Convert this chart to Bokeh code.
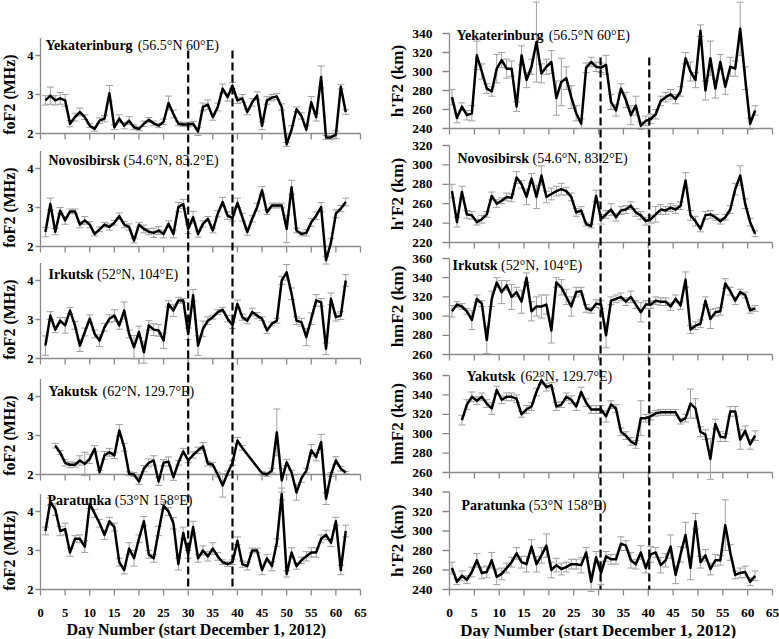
import math
from bokeh.plotting import figure
from bokeh.models import Range1d
from bokeh.layouts import row
from bokeh.core.properties import value
from bokeh.embed import file_html
from bokeh.resources import INLINE

# ---------------- data ----------------
days = list(range(1, 63))                 # day number (start December 1, 2012)
days_right = [d - 0.5 for d in days]      # right-hand panels are drawn half a day earlier
event_days_left = [30, 39]
event_days_right = [30.4, 40.2]
x_ticks = list(range(0, 66, 5))

stations = ["Yekaterinburg", "Novosibirsk", "Irkutsk", "Yakutsk", "Paratunka"]
coords_left = ["(56.5°N 60°E)", "(54.6°N, 83.2°E)", "(52°N, 104°E)", "(62°N, 129.7°E)", "(53°N 158°E)"]
coords_right = ["(56.5°N 60°E)", "(54.6°N, 83.2°E)", "(52°N, 104°E)", "(62°N, 129.7°E)", "(53°N 158°E)"]
left_ylabels = ["foF2 (MHz)"] * 5
right_ylabels = ["h'F2 (km)", "h'F2 (km)", "hmF2 (km)", "hmF2 (km)", "h'F2 (km)"]
left_yticks = [[2, 3, 4]] * 5
right_yticks = [[240, 260, 280, 300, 320, 340],
                [220, 240, 260, 280, 300, 320],
                [260, 280, 300, 320, 340, 360],
                [260, 280, 300, 320, 340, 360],
                [240, 260, 280, 300, 320, 340]]
xlabel = "Day Number (start December 1, 2012)"

# foF2 (MHz)
yek_fof2 = [2.85, 2.97, 2.85, 2.9, 2.85, 2.25, 2.42, 2.55, 2.42, 2.2,
            2.12, 2.33, 2.38, 3.03, 2.16, 2.38, 2.2, 2.33, 2.16, 2.12,
            2.25, 2.35, 2.26, 2.2, 2.3, 2.78, 2.5, 2.25, 2.23, 2.23,
            2.25, 2.05, 2.68, 2.74, 2.42, 2.68, 3.15, 2.93, 3.23, 2.85,
            2.9, 2.55, 2.8, 2.97, 2.2, 2.85, 2.92, 2.95, 2.68, 1.72,
            2.1, 2.62, 2.45, 2.1, 2.8, 2.42, 3.45, 1.9, 1.9, 1.97,
            3.2, 2.55]
yek_fof2_err = [.12, .22, .12, .15, .15, .08, .1, .1, .06, .05,
                .06, .07, .08, .2, .06, .1, .08, .1, .06, .05,
                .07, .06, .06, .05, .07, .18, .1, .05, .05, .06,
                .06, .1, .1, .12, .08, .1, .12, .1, .08, .08,
                .1, .07, .1, .1, .1, .1, .08, .08, .08, .05,
                .1, .06, .08, .1, .15, .1, .28, .05, .05, .1,
                .06, .06]
nov_fof2 = [2.37, 3.09, 2.38, 2.92, 2.67, 2.9, 2.9, 2.56, 2.67, 2.56,
            2.32, 2.44, 2.56, 2.5, 2.61, 2.78, 2.56, 2.5, 2.15, 2.56,
            2.45, 2.38, 2.35, 2.41, 2.32, 2.58, 2.32, 3.01, 3.09, 2.45,
            2.75, 2.32, 2.58, 2.71, 2.41, 2.84, 3.14, 2.79, 2.73, 3.12,
            2.75, 2.37, 2.71, 3.01, 3.44, 2.88, 3.05, 3.05, 3.05, 2.45,
            3.52, 2.41, 2.32, 2.35, 2.62, 2.79, 3.01, 1.65, 2.1, 2.84,
            2.97, 3.14]
nov_fof2_err = [.12, .15, .08, .08, .1, .06, .06, .08, .1, .08,
                .05, .06, .06, .08, .06, .08, .08, .08, .06, .06,
                .1, .08, .12, .1, .1, .08, .1, .12, .12, .12,
                .15, .08, .08, .06, .06, .08, .12, .1, .08, .12,
                .1, .08, .08, .1, .1, .06, .06, .06, .06, .35,
                .18, .06, .05, .08, .1, .1, .12, .1, .1, .1,
                .08, .1]
irk_fof2 = [2.33, 3.1, 2.74, 2.97, 2.85, 3.23, 2.85, 2.33, 2.68, 3.02,
            2.63, 2.46, 2.8, 3.02, 3.1, 2.85, 3.23, 2.63, 2.29, 2.68,
            2.16, 2.85, 2.74, 2.72, 2.46, 3.4, 3.23, 3.49, 3.49, 2.63,
            3.62, 2.33, 2.76, 2.97, 3.06, 3.19, 3.25, 3.02, 2.85, 3.4,
            3.06, 2.97, 3.19, 3.1, 3.02, 2.72, 2.89, 2.97, 4.0, 4.21,
            3.66, 2.97, 2.93, 2.55, 3.02, 3.49, 3.44, 2.25, 3.53, 3.06,
            3.1, 4.0]
irk_fof2_err = [.25, .1, .08, .08, .2, .08, .1, .15, .1, .1,
                .1, .15, .1, .1, .15, .1, .22, .1, .3, .15,
                .28, .12, .15, .15, .2, .08, .15, .08, .05, .15,
                .15, .25, .2, .1, .05, .06, .06, .08, .08, .1,
                .08, .08, .1, .08, .05, .08, .05, .06, .1, .2,
                .15, .1, .1, .22, .15, .15, .1, .15, .15, .1,
                .1, .15]
yak_fof2 = [None, None, 2.74, 2.56, 2.3, 2.25, 2.25, 2.36, 2.27, 2.4,
            2.66, 2.06, 2.49, 2.57, 2.49, 3.13, 2.7, 2.02, 2.0, 1.82,
            2.15, 2.3, 2.36, 1.82, 2.3, 2.33, 1.93, 2.3, 2.59, 2.36,
            2.5, 2.62, 2.72, 2.28, 2.25, 2.0, 1.72, 2.03, 2.3, 2.87,
            2.68, None, None, None, 2.03, 2.0, 2.1, 3.08, 1.85, 2.31,
            2.05, 1.54, 1.9, 2.1, 2.62, 2.45, 2.83, 1.38, 2.0, 2.36,
            2.15, 2.05]
yak_fof2_err = [None, None, .06, .05, .08, .08, .06, .12, .3, .12,
                .08, .05, .1, .1, .08, .15, .1, .05, .05, .08,
                .08, .1, .12, .1, .08, .12, .08, .06, .08, .06,
                .08, .08, .1, .06, .06, .06, .3, .06, .06, .08,
                .06, None, None, None, .05, .05, .06, .6, .3, .08,
                .06, .2, .1, .06, .15, .1, .2, .15, .05, .1,
                .06, .03]
par_fof2 = [3.5, 4.25, 4.05, 3.5, 3.55, 2.95, 3.3, 3.3, 3.1, 4.2,
            3.95, 3.7, 3.4, 3.75, 3.6, 2.7, 2.5, 3.05, 2.8, 3.3,
            3.75, 2.9, 2.8, 3.5, 4.15, 4.0, 3.7, 2.65, 3.45, 2.9,
            3.6, 2.8, 3.0, 2.85, 3.05, 2.85, 2.7, 2.65, 2.7, 3.25,
            2.65, 2.6, 3.0, 3.0, 2.5, 2.8, 2.6, 3.2, 4.45, 2.4,
            2.95, 2.6, 2.75, 2.85, 2.95, 2.95, 3.3, 3.4, 3.2, 3.75,
            2.5, 3.5]
par_fof2_err = [.1, .1, .15, .12, .15, .1, .08, .1, .15, .12,
                .1, .1, .12, .1, .1, .1, .1, .15, .2, .1,
                .12, .1, .1, .12, .1, .1, .15, .15, .15, .1,
                .15, .1, .12, .12, .15, .1, .06, .06, .06, .1,
                .08, .1, .06, .06, .12, .1, .12, .1, .15, .08,
                .12, .08, .08, .12, .12, .12, .1, .12, .1, .1,
                .12, .15]

# h'F2 / hmF2 (km)
yek_hf2 = [273, 251, 263, 254, 256, 317, 300, 282, 279, 303,
           312, 303, 303, 263, 317, 291, 305, 331, 298, 305,
           310, 272, 289, 293, 273, 256, 245, 304, 310, 305,
           304, 307, 268, 259, 282, 270, 254, 264, 243, 248,
           250, 255, 269, 273, 276, 271, 279, 314, 300, 291,
           343, 280, 314, 282, 310, 284, 305, 303, 345, 293,
           245, 259]
yek_hf2_err = [8, 5, 4, 5, 8, 15, 8, 5, 5, 15,
               8, 10, 8, 5, 10, 8, 8, 42, 10, 8,
               12, 18, 25, 12, 12, 8, 5, 5, 5, 5,
               5, 10, 8, 6, 5, 8, 10, 10, 4, 5,
               5, 5, 5, 5, 5, 5, 5, 6, 10, 8,
               6, 10, 18, 10, 8, 8, 10, 8, 28, 12,
               6, 5]
nov_hf2 = [273, 241, 272, 249, 248, 241, 244, 249, 268, 260,
           263, 267, 266, 287, 280, 267, 286, 267, 289, 267,
           270, 273, 275, 273, 267, 251, 253, 239, 237, 268,
           244, 249, 254, 246, 253, 254, 258, 251, 248, 242,
           244, 249, 254, 253, 256, 254, 258, 284, 248, 242,
           234, 248, 249, 246, 242, 246, 254, 275, 289, 260,
           241, 229]
nov_hf2_err = [7, 5, 6, 4, 4, 3, 4, 3, 4, 4,
               3, 4, 4, 6, 4, 8, 5, 12, 10, 6,
               6, 5, 6, 4, 4, 4, 4, 2, 2, 6,
               5, 4, 6, 4, 4, 4, 4, 4, 4, 4,
               4, 8, 5, 4, 4, 4, 4, 8, 5, 5,
               3, 4, 4, 3, 3, 3, 4, 6, 10, 5,
               4, 3]
irk_hmf2 = [305, 312, 310, 305, 296, 318, 313, 275, 318, 335,
            325, 332, 320, 325, 315, 340, 305, 310, 310, 312,
            285, 335, 330, 320, 310, 325, 326, 308, 306, 313,
            312, 280, 316, 318, 320, 315, 320, 312, 304, 312,
            312, 316, 315, 315, 310, 318, 311, 338, 286, 290,
            292, 316, 297, 304, 305, 334, 326, 316, 325, 322,
            306, 308]
irk_hmf2_err = [6, 3, 3, 3, 10, 4, 3, 14, 8, 5,
                12, 5, 13, 5, 12, 5, 10, 10, 12, 10,
                13, 5, 8, 8, 10, 5, 4, 4, 3, 4,
                4, 13, 4, 4, 4, 4, 6, 4, 10, 4,
                4, 4, 4, 4, 4, 4, 4, 8, 4, 4,
                4, 4, 10, 4, 4, 5, 4, 4, 3, 3,
                3, 3]
yak_hmf2 = [None, None, 314, 330, 338, 334, 338, 331, 326, 345,
            335, 338, 338, 336, 320, 325, 328, 343, 355, 348,
            350, 328, 330, 338, 335, 328, 343, 332, 325, 325,
            325, 318, 330, 326, 302, 298, 292, 289, 316, 316,
            318, 321, 322, 322, 322, 322, 313, 316, 331, 326,
            302, 299, 274, 310, 297, 296, 323, 323, 294, 303,
            289, 298]
yak_hmf2_err = [None, None, 5, 5, 5, 4, 4, 4, 6, 4,
                4, 4, 4, 4, 3, 4, 4, 4, 4, 4,
                3, 4, 3, 4, 4, 4, 5, 4, 4, 4,
                4, 6, 4, 4, 4, 4, 4, 4, 18, 4,
                4, 3, 3, 3, 3, 3, 3, 4, 15, 10,
                5, 5, 21, 5, 5, 4, 5, 5, 10, 5,
                5, 5]
par_hf2 = [262, 248, 254, 250, 258, 270, 257, 258, 270, 253,
           256, 262, 268, 277, 268, 266, 284, 266, 275, 285,
           260, 265, 261, 263, 266, 266, 265, 278, 248, 273,
           257, 274, 271, 271, 287, 285, 270, 266, 278, 262,
           276, 278, 265, 270, 284, 255, 276, 296, 262, 310,
           268, 275, 261, 270, 270, 306, 278, 255, 257, 258,
           248, 254]
par_hf2_err = [6, 3, 5, 4, 5, 7, 6, 6, 8, 8,
               6, 5, 5, 6, 6, 8, 7, 8, 8, 12,
               8, 7, 6, 5, 5, 5, 8, 5, 10, 6,
               12, 5, 5, 5, 7, 5, 8, 5, 7, 5,
               8, 5, 8, 7, 12, 9, 8, 13, 12, 8,
               6, 6, 6, 6, 5, 26, 8, 4, 5, 6,
               4, 5]

left_series = [(yek_fof2, yek_fof2_err), (nov_fof2, nov_fof2_err), (irk_fof2, irk_fof2_err),
               (yak_fof2, yak_fof2_err), (par_fof2, par_fof2_err)]
right_series = [(yek_hf2, yek_hf2_err), (nov_hf2, nov_hf2_err), (irk_hmf2, irk_hmf2_err),
                (yak_hmf2, yak_hmf2_err), (par_hf2, par_hf2_err)]

# ---------------- layout / style ----------------
FONT = "Liberation Serif"
H = 638
AX = "#8a8a8a"
ERR = "#a0a0a0"
TITLE_FS = 14
# width (px) of the bold station names at 14px, used to place the coordinate text after them
NAME_W = {"Yekaterinburg": 88.7, "Novosibirsk": 71.6, "Irkutsk": 45.1, "Yakutsk": 50.6, "Paratunka": 63.8}

LEFT = dict(width=385, ax=40, x65=360,
            bottoms=[2, 2, 2, 2, 2], bottom_px=[133, 246, 358, 474, 589],
            scale=[39.0] * 5, tops=[4.45] * 5,
            title_y=[4.26, 4.2, 4.15, 4.13, 4.28], title_dx=[5, 8, 8, 8, 7],
            ev_top=50, tick_len=5, lab_off=7, ytitle_off=31.5, tick_fs=12.5, ytitle_fs=16,
            xlab_fs=16, xlab_x=31.7, xtick_y=612, xlab_y=629)
RIGHT = dict(width=394, ax=64, x65=387,
             bottoms=[240, 220, 260, 260, 240], bottom_px=[128, 242, 354, 472, 589],
             scale=[0.95, 0.97, 0.96, 0.97, 0.975], tops=[340, 320, 360, 360, 340],
             title_y=[338, 306.5, 352.5, 359, 326], title_dx=[7, 8, 3, 17, 12],
             ev_top=57, tick_len=7, lab_off=17, ytitle_off=52, tick_fs=13.5, ytitle_fs=17,
             xlab_fs=17, xlab_x=30.0, xtick_y=612, xlab_y=629.5)


def make_column(L, xs_all, series, yticks, ylabels, coords, events):
    ppd = (L["x65"] - L["ax"]) / 65.0
    p = figure(width=L["width"], height=H, output_backend="svg", toolbar_location=None,
               x_axis_location=None, y_axis_location=None,
               x_range=Range1d(-L["ax"] / ppd, 65 + (L["width"] - L["x65"]) / ppd),
               y_range=Range1d(H, 0), outline_line_color=None,
               background_fill_color="white", border_fill_color="white")
    p.min_border = 0
    p.min_border_left = 0
    p.min_border_right = 0
    p.min_border_top = 0
    p.min_border_bottom = 0
    p.grid.visible = False

    ranges = {}
    for k in range(5):
        b, Y, s = L["bottoms"][k], L["bottom_px"][k], L["scale"][k]
        ranges[f"p{k}"] = Range1d(b - (H - Y) / s, b + Y / s)
    p.extra_y_ranges = ranges

    txt = dict(text_font=value(FONT), text_color="black")
    for k in range(5):
        rn = f"p{k}"
        b, s, top = L["bottoms"][k], L["scale"][k], L["tops"][k]
        # axes
        p.segment(x0=[0], y0=[b], x1=[0], y1=[top], line_color=AX, line_width=1.3, y_range_name=rn)
        p.segment(x0=[0], y0=[b], x1=[65], y1=[b], line_color=AX, line_width=1.3, y_range_name=rn)
        n = len(x_ticks)
        p.segment(x0=x_ticks, y0=[b] * n, x1=x_ticks, y1=[b - 6.0 / s] * n,
                  line_color=AX, line_width=1.3, y_range_name=rn)
        yt = yticks[k]
        p.segment(x0=[0] * len(yt), y0=yt, x1=[-L["tick_len"] / ppd] * len(yt), y1=yt,
                  line_color=AX, line_width=1.3, y_range_name=rn)
        p.text(x=[0] * len(yt), y=yt, text=[str(t) for t in yt], x_offset=-L["lab_off"],
               text_align="right", text_baseline="middle", text_font_style="bold",
               text_font_size=value(f"{L['tick_fs']}px"), y_range_name=rn, **txt)
        p.text(x=[0], y=[(b + yt[-1]) / 2.0], text=[ylabels[k]], angle=math.pi / 2,
               x_offset=-L["ytitle_off"], text_align="center", text_baseline="middle",
               text_font_style="bold", text_font_size=value(f"{L['ytitle_fs']}px"),
               y_range_name=rn, **txt)

        # data
        vals, errs = series[k]
        xs = [x for x, v in zip(xs_all, vals) if v is not None]
        vs = [v for v in vals if v is not None]
        es = [e for v, e in zip(vals, errs) if v is not None]
        lo = [v - e for v, e in zip(vs, es)]
        hi = [v + e for v, e in zip(vs, es)]
        p.segment(x0=xs, y0=lo, x1=xs, y1=hi, line_color=ERR, line_width=1, y_range_name=rn)
        p.scatter(x=xs + xs, y=lo + hi, marker="dash", size=7, line_color=ERR, line_width=1,
                  y_range_name=rn)
        p.line(xs, vs, line_color="black", line_width=2.5, line_join="round", y_range_name=rn)

        # station title
        name = stations[k]
        ty = L["title_y"][k]
        dx = L["title_dx"][k]
        p.text(x=[0], y=[ty], text=[name], x_offset=dx, text_align="left", text_baseline="middle",
               text_font_style="bold", text_font_size=value(f"{TITLE_FS}px"), y_range_name=rn, **txt)
        p.text(x=[0], y=[ty], text=[coords[k]], x_offset=dx + NAME_W[name] + 3.5,
               text_align="left", text_baseline="middle", text_font_style="normal",
               text_font_size=value(f"{TITLE_FS}px"), y_range_name=rn, **txt)

    # event lines across all panels
    p.segment(x0=events, y0=[L["ev_top"]] * len(events), x1=events,
              y1=[L["bottom_px"][4]] * len(events), line_color="black", line_width=2.2,
              line_dash="8 4")

    # bottom x axis labels
    p.text(x=x_ticks, y=[L["xtick_y"]] * len(x_ticks), text=[str(t) for t in x_ticks],
           text_align="center", text_baseline="middle", text_font_style="bold",
           text_font_size=value(f"{L['tick_fs']}px"), **txt)
    p.text(x=[L["xlab_x"]], y=[L["xlab_y"]], text=[xlabel], text_align="center",
           text_baseline="middle", text_font_style="bold",
           text_font_size=value(f"{L['xlab_fs']}px"), **txt)
    return p


p_left = make_column(LEFT, days, left_series, left_yticks, left_ylabels, coords_left, event_days_left)
p_right = make_column(RIGHT, days_right, right_series, right_yticks, right_ylabels, coords_right,
                      event_days_right)

layout = row(p_left, p_right)
open("out.html", "w", encoding="utf-8").write(file_html(layout, INLINE))
